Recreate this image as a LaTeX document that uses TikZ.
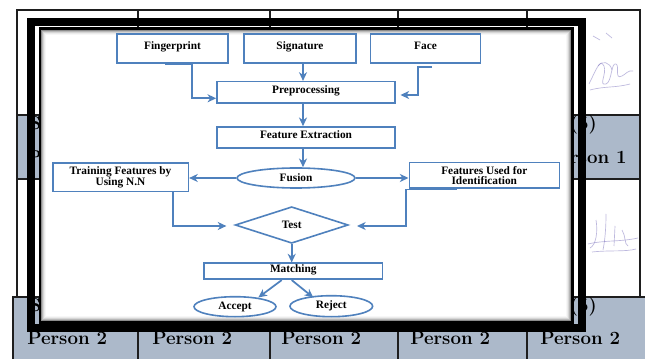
\documentclass[tikz,border=0pt]{standalone}
\usepackage{fontspec}
\newfontfamily\flowfont{Liberation Serif}
\usetikzlibrary{arrows.meta,shapes.geometric,calc}
\definecolor{fblue}{RGB}{79,129,189}
\definecolor{tgrey}{RGB}{172,185,202}
\definecolor{ink}{RGB}{125,115,190}
\definecolor{tline}{RGB}{30,30,30}
\begin{document}
\begin{tikzpicture}[x=0.75pt,y=-0.75pt,
  tl/.style={draw=tline,line width=1.1pt},
  cell/.style={font=\bfseries\fontsize{14}{16}\selectfont, inner sep=0pt, text=black},
  fbox/.style={draw=fblue, line width=1.2pt, fill=white, inner sep=0pt, font=\flowfont\bfseries\fontsize{8.5}{8}\selectfont, align=center},
  onel/.style={text height=6pt, text depth=4.5pt},
  foval/.style={fbox, ellipse},
  fdiam/.style={fbox, diamond},
  arr/.style={draw=fblue, line width=1.3pt, -{Stealth[length=6.5pt,width=6pt,inset=2pt]}},
  scrib/.style={draw=ink, line width=0.5pt, opacity=0.5}
]
\useasboundingbox (0,0) rectangle (645,359);
% ---------- background table ----------
\fill[white] (0,0) rectangle (645,359);
\fill[tgrey] (17,115) rectangle (640,179);
\fill[tgrey] (13,297) rectangle (645,359);
\draw[tl] (17,297) -- (17,10) -- (640,10) -- (640,297);
\draw[tl] (17,115) -- (640,115);
\draw[tl] (17,179) -- (640,179);
\draw[tl] (13,359) -- (13,297) -- (645,297);
\foreach \cx in {138,270,398,527} \draw[tl] (\cx,10) -- (\cx,359);
\node[cell, anchor=west] (r2a) at (29,125) {S (1)};
\node[cell, anchor=east] (r2e) at (597,125) {S (5)};
\node[cell, anchor=west] (r2p) at (27,157) {Person 1};
\node[cell, anchor=east] (r2q) at (627,157) {Person 1};
\node[cell, anchor=west] (r4a) at (29,307) {S (1)};
\node[cell, anchor=east] (r4e) at (597,307) {S (5)};
\node[cell, anchor=west] (p1) at (27,338) {Person 2};
\node[cell, anchor=west] (p2) at (152,338) {Person 2};
\node[cell, anchor=west] (p3) at (281,338) {Person 2};
\node[cell, anchor=west] (p4) at (410,338) {Person 2};
\node[cell, anchor=west] (p5) at (540,338) {Person 2};
% signatures (scribbles)
\draw[scrib] (589,84) .. controls (596,70) and (600,58) .. (604,66) .. controls (607,74) and (598,86) .. (606,84) .. controls (612,82) and (611,62) .. (616,64) .. controls (620,66) and (614,80) .. (622,76) .. controls (626,74) and (628,70) .. (633,71);
\draw[scrib] (590,90) .. controls (605,86) and (615,88) .. (630,84);
\draw[scrib] (598,66) .. controls (602,60) and (610,62) .. (612,70);
\draw[scrib] (593,36) -- (600,40) (606,33) -- (612,38);
\draw[scrib] (596,220) .. controls (598,232) and (596,245) .. (590,248);
\draw[scrib] (606,214) .. controls (606,228) and (605,240) .. (603,250);
\draw[scrib] (615,226) -- (614,246);
\draw[scrib] (622,230) .. controls (626,236) and (624,244) .. (628,246);
\draw[scrib] (588,244) .. controls (605,240) and (620,242) .. (638,238);
\draw[scrib] (592,252) .. controls (610,250) and (625,252) .. (636,249);
% ---------- frame ----------
\draw[line width=6pt] (31,22) rectangle (582,328);
\draw[line width=2.25pt] (40,29) rectangle (572,322);
\fill[white] (41.2,30.2) rectangle (570.8,320.8);
\foreach \i/\c in {0.5/45,1.5/28,2.5/16,3.5/8,4.5/3}
  \draw[black!\c, line width=0.75pt] (41.2+\i,30.2+\i) rectangle (570.8-\i,320.8-\i);
% ---------- flowchart ----------
\node[fbox,onel,minimum width=111*0.75pt,minimum height=29*0.75pt] (fp) at (172.5,48.5) {Fingerprint};
\node[fbox,onel,minimum width=112*0.75pt,minimum height=29*0.75pt] (sig) at (300,48.5) {Signature};
\node[fbox,onel,minimum width=110*0.75pt,minimum height=29*0.75pt] (face) at (425.5,48.5) {Face};
\node[fbox,onel,minimum width=178*0.75pt,minimum height=21.6*0.75pt] (pre) at (306,92.5) {Preprocessing};
\node[fbox,onel,minimum width=178*0.75pt,minimum height=21*0.75pt] (fe) at (306,137.5) {Feature Extraction};
\node[foval,minimum width=118*0.75pt,minimum height=20*0.75pt] (fus) at (296,178) {Fusion};
\node[fbox,minimum width=135.6*0.75pt,minimum height=28.4*0.75pt] (train) at (120.5,177.5) {Training Features by\\Using N.N};
\node[fbox,minimum width=150*0.75pt,minimum height=25.6*0.75pt] (used) at (484.3,175.5) {Features Used for\\Identification};
\node[fdiam,minimum width=113*0.75pt,minimum height=36.6*0.75pt] (test) at (291.7,225) {Test};
\node[fbox,onel,minimum width=178.7*0.75pt,minimum height=16*0.75pt] (match) at (293.3,271.3) {Matching};
\node[foval,minimum width=82*0.75pt,minimum height=20*0.75pt] (acc) at (235,306.7) {Accept};
\node[foval,minimum width=82.7*0.75pt,minimum height=21*0.75pt] (rej) at (331.3,306.2) {Reject};
% connectors
\coordinate (sp) at (303,0);
\draw[arr] (sig.south -| sp) -- (pre.north -| sp);
\draw[arr] (pre.south -| sp) -- (fe.north -| sp);
\draw[arr] (fe.south -| sp) -- (fus.north -| sp);
\coordinate (f1) at (165,64.5);
\coordinate (f2) at (191.7,98.3);
\draw[arr] (f1) -- (f1 -| f2) -- (f2) -- (pre.west |- f2);
\coordinate (g1) at (432,66.7);
\coordinate (g2) at (418.3,95);
\draw[arr, shorten >=3.5pt] (g1) -- (g1 -| g2) -- (g2) -- (pre.east |- g2);
\draw[arr] (fus.west) -- (train.east |- fus.west);
\draw[arr] (fus.east) -- (used.west |- fus.east);
\coordinate (t1) at (173.3,226);
\draw[arr, shorten >=6pt] (train.south -| t1) -- (t1) -- (test.west |- t1);
\coordinate (u1) at (456.7,189.5);
\coordinate (u2) at (406,226);
\draw[arr, shorten >=6pt] (u1) -- (u1 -| u2) -- (u2) -- (test.east |- u2);
\draw[arr] (test.south) -- (match.north -| test.south);
\coordinate (m1) at (281.7,0);
\coordinate (m2) at (291.7,0);
\coordinate (a1) at (258.3,297.5);
\coordinate (b1) at (313.3,297.5);
\draw[arr] (match.south -| m1) -- (a1);
\draw[arr] (match.south -| m2) -- (b1);
\end{tikzpicture}
\end{document}
